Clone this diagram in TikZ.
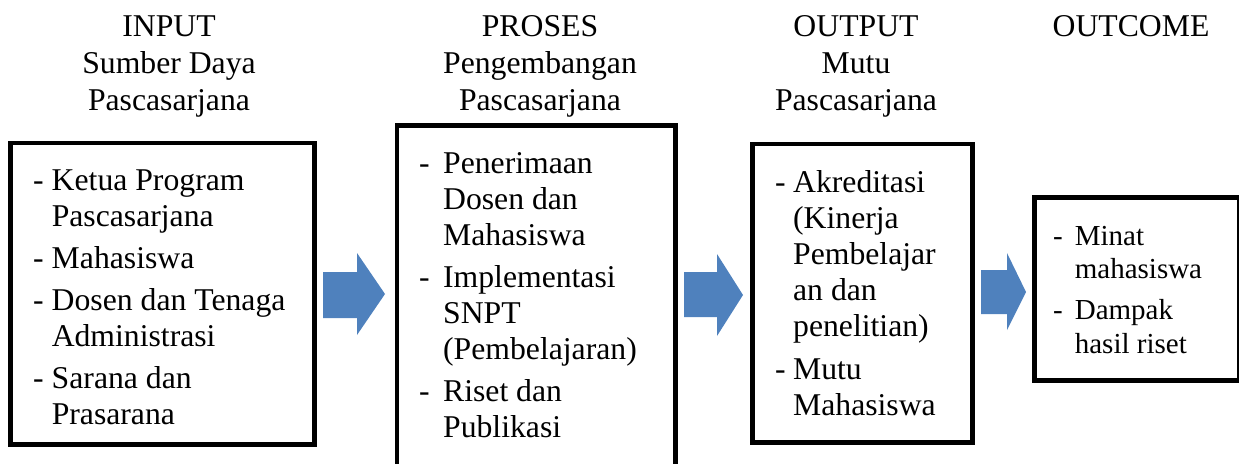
\documentclass[tikz,border=0pt]{standalone}
\usepackage{fontspec}
\setmainfont{Liberation Serif}
\definecolor{biru}{RGB}{79,129,189}

\begin{document}
\begin{tikzpicture}[x=1pt, y=-1pt,
	kotak/.style={draw, line width=4.5pt, rectangle, inner sep=0pt},
	judul/.style={anchor=base, inner sep=0pt, font=\fontsize{31.7}{37}\selectfont},
	isi/.style={anchor=base west, inner sep=0pt, font=\fontsize{31.7}{36}\selectfont},
	panah/.style={fill=biru, draw=none}]
				\useasboundingbox (0,0) rectangle (1239,463);
				% judul kolom
				\node[judul] (jInput)at(169, 36) {\begin{tabular}[t]{@{}c@{}}INPUT\\Sumber Daya\\Pascasarjana\end{tabular}};
				\node[judul] (jProses)at(540, 36) {\begin{tabular}[t]{@{}c@{}}PROSES\\Pengembangan\\Pascasarjana\end{tabular}};
				\node[judul] (jOutput)at(856, 36) {\begin{tabular}[t]{@{}c@{}}OUTPUT\\Mutu\\Pascasarjana\end{tabular}};
				\node[judul] (jOutcome)at(1131, 36) {OUTCOME};
				% kotak
				\node[kotak, minimum width=304pt, minimum height=301.5pt] (input)at(162.5, 293.75) {};
				\node[kotak, minimum width=278.5pt, minimum height=349.5pt] (proses)at(536.25, 300.25) {};
				\node[kotak, minimum width=220pt, minimum height=298.5pt] (output)at(862.5, 293.25) {};
				\node[kotak, minimum width=204.5pt, minimum height=183pt] (outcome)at(1136.75, 289) {};
				% isi kotak
				\node[isi] (isiInput)at(33, 190) {\begin{tabular}[t]{@{}l@{\hspace{8pt}}l@{}}
					- & Ketua Program\\
					  & Pascasarjana\\[6pt]
					- & Mahasiswa\\[6pt]
					- & Dosen dan Tenaga\\
					  & Administrasi\\[6pt]
					- & Sarana dan\\
					  & Prasarana
				\end{tabular}};
				\node[isi] (isiProses)at(419, 173) {\begin{tabular}[t]{@{}l@{\hspace{13.4pt}}l@{}}
					- & Penerimaan\\
					  & Dosen dan\\
					  & Mahasiswa\\[6pt]
					- & Implementasi\\
					  & SNPT\\
					  & (Pembelajaran)\\[6pt]
					- & Riset dan\\
					  & Publikasi
				\end{tabular}};
				\node[isi] (isiOutput)at(775, 192) {\begin{tabular}[t]{@{}l@{\hspace{7.4pt}}l@{}}
					- & Akreditasi\\
					  & (Kinerja\\
					  & Pembelajar\\
					  & an dan\\
					  & penelitian)\\[7pt]
					- & Mutu\\
					  & Mahasiswa
				\end{tabular}};
				\node[isi, font=\fontsize{29}{33.5}\selectfont] (isiOutcome)at(1053, 245) {\begin{tabular}[t]{@{}l@{\hspace{12pt}}l@{}}
					- & Minat\\
					  & mahasiswa\\[7.5pt]
					- & Dampak\\
					  & hasil riset
				\end{tabular}};
				% panah blok
				\fill[panah] (323,272) -- (357,272) -- (357,253) -- (385,294) -- (357,335) -- (357,318) -- (323,318) -- cycle;
				\fill[panah] (684,272) -- (717,272) -- (717,254) -- (743,295) -- (717,336) -- (717,317) -- (684,317) -- cycle;
				\fill[panah] (981,270) -- (1007,270) -- (1007,253) -- (1026,292) -- (1007,330) -- (1007,314) -- (981,314) -- cycle;
			\end{tikzpicture}
\end{document}
